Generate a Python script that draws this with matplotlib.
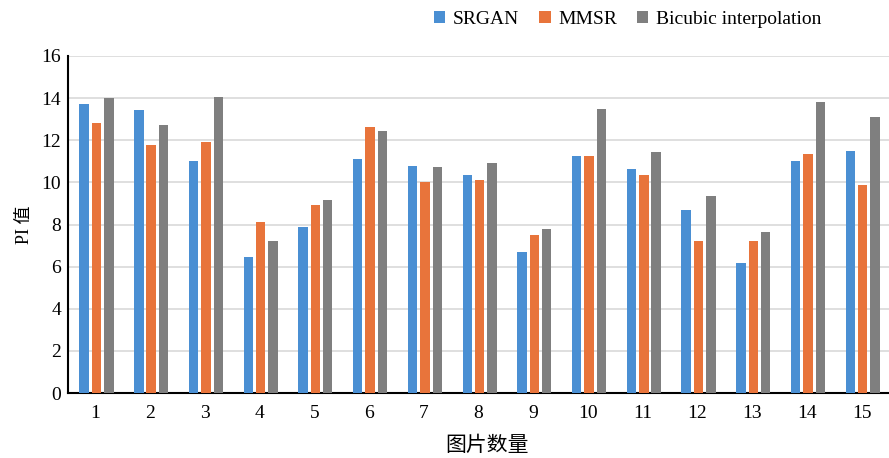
import matplotlib
matplotlib.use("Agg")
import matplotlib.pyplot as plt
import numpy as np

categories = [str(i) for i in range(1, 16)]
srgan = [13.72, 13.44, 11.02, 6.44, 7.90, 11.13, 10.79, 10.35, 6.68, 11.25, 10.64, 8.69, 6.16, 11.02, 11.50]
mmsr = [12.82, 11.78, 11.92, 8.12, 8.91, 12.63, 10.02, 10.11, 7.49, 11.25, 10.35, 7.22, 7.22, 11.35, 9.86]
bicubic = [14.00, 12.71, 14.07, 7.22, 9.16, 12.44, 10.75, 10.91, 7.77, 13.47, 11.43, 9.37, 7.63, 13.83, 13.09]
series_names = ["SRGAN", "MMSR", "Bicubic interpolation"]
colors = ["#4a8fd3", "#e8743b", "#7f7f7f"]

serif = ["Liberation Serif", "DejaVu Serif"]
cjk = ["Noto Sans CJK SC", "DejaVu Sans"]

fig = plt.figure(figsize=(8.89, 4.58), dpi=100)
ax = fig.add_axes([68/889, 1-393/458, 1-68/889, (393-56)/458])

x = np.arange(1, 16)
w = 0.172
step = 0.226
for i, (vals, name, c) in enumerate(zip([srgan, mmsr, bicubic], series_names, colors)):
    ax.bar(x + (i - 1) * step + 0.02, vals, width=w, color=c, label=name, zorder=3)

ax.set_xlim(0.5, 15.5)
ax.set_ylim(0, 16)
ax.set_yticks(range(0, 17, 2))
ax.set_xticks(x)
ax.set_xticklabels(categories)
ax.grid(axis="y", color="#d9d9d9", linewidth=1.2, zorder=0)
ax.tick_params(length=0, labelsize=14, pad=5)
for lab in ax.get_xticklabels() + ax.get_yticklabels():
    lab.set_family(serif)
ax.tick_params(axis="x", pad=9)
for s in ["top", "right"]:
    ax.spines[s].set_visible(False)
ax.spines["left"].set_linewidth(1.5)
ax.spines["bottom"].set_linewidth(1.5)

ax.set_ylabel("PI 值", fontsize=13, family=["Liberation Serif", "Noto Sans CJK SC"], labelpad=6)
fig.text(487/889, 1-445/458, "图片数量", fontsize=15, family=cjk, fontweight="light",
         ha="center", va="center")

leg = fig.legend(loc="upper right", bbox_to_anchor=(839/889, 1.015), ncol=3, frameon=False,
                 prop={"family": serif, "size": 14}, handlelength=0.6, handleheight=0.6,
                 columnspacing=1.0, handletextpad=0.4)

fig.savefig("out.png", dpi=100)
